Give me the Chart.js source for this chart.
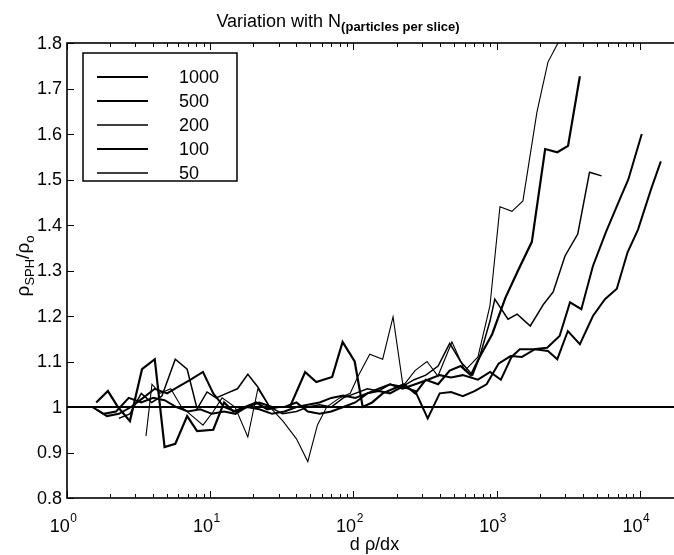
<!DOCTYPE html>
<html lang="en">
<head>
<meta charset="UTF-8">
<title>Variation with N</title>
<style>
  * { margin: 0; padding: 0; box-sizing: border-box; }
  html, body { width: 674px; height: 555px; background: #fff; overflow: hidden; }
  canvas { display: block; }
</style>
<script src="https://cdn.jsdelivr.net/npm/chart.js"></script>
</head>
<body>
<canvas id="nChart" width="674" height="555"></canvas>
<script>
// values (x = d rho/dx, y = rho_SPH / rho_0)
const seriesLabels = ['1000', '500', '200', '100', '50'];

const x1000 = [1.5, 1.8, 2.2, 2.7, 3.3, 4, 4.8, 5.8, 7, 8.5, 10.3, 12.5, 15, 18, 22, 27, 33, 40, 48, 58, 70, 85, 103, 125, 150, 180, 220, 270, 330, 400, 480, 580, 700, 850, 1030, 1250, 1500, 1850, 2280, 2650, 3140, 3810, 4700, 5700, 6900, 8200, 9700, 12000, 14000];
const y1000 = [1.0, 0.985, 0.99, 1.02, 1.01, 1.02, 1.015, 1.0, 0.99, 0.995, 0.985, 0.99, 0.985, 1.0, 0.995, 0.985, 0.99, 1.0, 1.005, 1.01, 1.02, 1.025, 1.02, 1.03, 1.035, 1.03, 1.045, 1.035, 0.975, 1.03, 1.033, 1.024, 1.035, 1.05, 1.095, 1.112, 1.11, 1.127, 1.123, 1.105, 1.167, 1.138, 1.2, 1.237, 1.26, 1.34, 1.39, 1.48, 1.54];

const x500 = [1.6, 1.9, 2.3, 2.8, 3.4, 4.1, 5, 6, 7.3, 8.9, 10.5, 12.5, 15, 18, 22, 27, 33, 40, 48, 58, 70, 85, 103, 125, 150, 180, 220, 270, 330, 400, 480, 580, 740, 900, 1070, 1270, 1450, 1800, 2250, 2750, 3250, 3900, 4700, 5800, 7000, 8300, 10300];
const y500 = [0.995, 0.98, 0.985, 1.0, 1.02, 1.04, 1.03, 1.045, 1.06, 1.077, 1.03, 1.0, 0.99, 1.0, 1.01, 1.0, 1.0, 1.01, 0.99, 0.985, 0.99, 1.0, 1.01, 1.03, 1.04, 1.05, 1.04, 1.05, 1.06, 1.07, 1.065, 1.07, 1.06, 1.077, 1.06, 1.11, 1.127, 1.127, 1.13, 1.156, 1.23, 1.215, 1.31, 1.385, 1.446, 1.5, 1.6];

const x200 = [2.3, 2.75, 3.3, 3.9, 4.6, 5.7, 6.9, 8.1, 9.5, 11, 13, 15.5, 18.3, 21.5, 26, 32, 40, 48, 58, 70, 85, 103, 125, 150, 180, 220, 265, 320, 390, 470, 560, 680, 760, 900, 970, 1200, 1390, 1716, 2125, 2480, 3000, 3680, 4450, 5400];
const y200 = [0.975, 0.985, 1.03, 1.01, 1.024, 1.105, 1.083, 0.996, 1.033, 1.02, 1.03, 1.04, 1.072, 1.044, 1.0, 0.985, 0.99, 1.0, 1.005, 1.0, 1.02, 1.03, 1.04, 1.035, 1.05, 1.045, 1.06, 1.07, 1.09, 1.14, 1.1, 1.07, 1.11, 1.19, 1.237, 1.193, 1.204, 1.178, 1.226, 1.253, 1.332, 1.38, 1.516, 1.508];

const x100 = [1.6, 1.93, 2.27, 2.75, 3.34, 4.1, 4.8, 5.7, 6.9, 8.1, 10.5, 12.5, 14.5, 17.5, 21, 25, 30, 36, 46, 55, 71, 84, 102, 116, 135, 160, 190, 225, 270, 320, 390, 470, 560, 660, 760, 930, 1150, 1410, 1760, 2180, 2650, 3150, 3810];
const y100 = [1.01, 1.035, 1.0, 0.969, 1.083, 1.105, 0.912, 0.919, 0.98, 0.947, 0.95, 1.01, 0.99, 1.0, 1.01, 0.995, 1.0, 1.0, 1.077, 1.055, 1.066, 1.143, 1.1, 1.0, 1.01, 1.03, 1.04, 1.05, 1.03, 1.06, 1.05, 1.08, 1.09, 1.07, 1.11, 1.16, 1.24, 1.3, 1.363, 1.567, 1.56, 1.574, 1.727];

const x50 = [3.56, 3.92, 4.46, 5.3, 6.3, 7.5, 8.9, 10.5, 12.1, 14.9, 18.3, 21.5, 26, 32, 40, 48, 56, 65, 80, 95, 107, 130, 160, 189, 222, 269, 326, 389, 487, 600, 740, 897, 1054, 1278, 1525, 1910, 2280, 2680, 3100];
const y50 = [0.936, 1.05, 1.03, 1.04, 1.0, 0.98, 0.96, 0.99, 1.02, 1.0, 0.934, 1.04, 1.0, 0.97, 0.93, 0.88, 0.96, 1.0, 1.02, 1.03, 1.066, 1.116, 1.105, 1.198, 1.046, 1.08, 1.1, 1.068, 1.143, 1.08, 1.11, 1.222, 1.44, 1.43, 1.453, 1.648, 1.758, 1.8, 1.9];

const refX = [1, 17300];
const refY = [1, 1];

const yTicks = [0.8, 0.9, 1.0, 1.1, 1.2, 1.3, 1.4, 1.5, 1.6, 1.7, 1.8];
const yTickLabels = ['0.8', '0.9', '1', '1.1', '1.2', '1.3', '1.4', '1.5', '1.6', '1.7', '1.8'];
const xDecades = [0, 1, 2, 3, 4];

const FONT = '"Liberation Sans", Arial, Helvetica, sans-serif';

function pts(xs, ys) {
    return xs.map((x, i) => ({ x: x, y: ys[i] }));
}

const lineWidths = [2, 2, 1.5, 2.2, 1.1];
const seriesData = [[x1000, y1000], [x500, y500], [x200, y200], [x100, y100], [x50, y50]];

const datasets = seriesData.map((s, i) => ({
    label: seriesLabels[i],
    data: pts(s[0], s[1]),
    borderColor: '#000',
    borderWidth: lineWidths[i],
    pointRadius: 0,
    tension: 0,
    fill: false
}));
datasets.push({
    label: 'ref',
    data: pts(refX, refY),
    borderColor: '#000',
    borderWidth: 1.8,
    pointRadius: 0,
    fill: false
});

function seg(ctx, x1, y1, x2, y2) {
    ctx.beginPath();
    ctx.moveTo(x1, y1);
    ctx.lineTo(x2, y2);
    ctx.stroke();
}

const decor = {
    id: 'decor',
    afterDraw(chart) {
        const ctx = chart.ctx;
        const a = chart.chartArea;
        const xs = chart.scales.x;
        const ys = chart.scales.y;
        ctx.save();
        ctx.strokeStyle = '#000';
        ctx.fillStyle = '#000';

        // axes box
        ctx.lineWidth = 1.6;
        ctx.strokeRect(a.left, a.top, a.right - a.left + 4, a.bottom - a.top);

        // inward ticks, x (log)
        ctx.lineWidth = 1;
        xDecades.forEach(d => {
            for (let m = 1; m <= 9; m++) {
                const v = m * Math.pow(10, d);
                if (v > xs.max) break;
                const px = Math.round(xs.getPixelForValue(v)) + 0.5;
                const len = m === 1 ? 7 : 4;
                seg(ctx, px, a.bottom, px, a.bottom - len);
                seg(ctx, px, a.top, px, a.top + len);
            }
        });
        // inward ticks, y
        yTicks.forEach(v => {
            const py = Math.round(ys.getPixelForValue(v)) + 0.5;
            seg(ctx, a.left, py, a.left + 7, py);
        });

        // y tick labels
        ctx.font = '18px ' + FONT;
        ctx.textAlign = 'right';
        ctx.textBaseline = 'middle';
        yTicks.forEach((v, i) => {
            ctx.fillText(yTickLabels[i], a.left - 5, ys.getPixelForValue(v) + 1);
        });

        // x tick labels 10^n
        ctx.textBaseline = 'alphabetic';
        ctx.textAlign = 'left';
        xDecades.forEach(d => {
            const px = xs.getPixelForValue(Math.pow(10, d));
            ctx.font = '18px ' + FONT;
            const wb = ctx.measureText('10').width;
            ctx.font = '12px ' + FONT;
            const we = ctx.measureText(String(d)).width;
            const x0 = px - 4 - (wb + we) / 2;
            ctx.font = '18px ' + FONT;
            ctx.fillText('10', x0, a.bottom + 34);
            ctx.font = '12px ' + FONT;
            ctx.fillText(String(d), x0 + wb + 0.5, a.bottom + 24);
        });

        // x axis title
        ctx.font = '18px ' + FONT;
        ctx.textAlign = 'center';
        ctx.fillText('d \u03C1/dx', (a.left + a.right) / 2 + 4, a.bottom + 52);

        // y axis title: rho_SPH / rho_o, rotated
        const parts = [
            ['\u03C1', 19, 0], ['SPH', 13, 5], ['/', 19, 0], ['\u03C1', 19, 0], ['o', 13, 5]
        ];
        let total = 0;
        parts.forEach(p => { ctx.font = p[1] + 'px ' + FONT; total += ctx.measureText(p[0]).width; });
        ctx.save();
        ctx.translate(29, 266);
        ctx.rotate(-Math.PI / 2);
        ctx.textAlign = 'left';
        let cx = -total / 2;
        parts.forEach(p => {
            ctx.font = p[1] + 'px ' + FONT;
            ctx.fillText(p[0], cx, p[2]);
            cx += ctx.measureText(p[0]).width;
        });
        ctx.restore();

        // title
        ctx.textAlign = 'left';
        ctx.font = '18px ' + FONT;
        const t1 = 'Variation with N';
        const w1 = ctx.measureText(t1).width;
        ctx.font = 'bold 13px ' + FONT;
        const t2 = '(particles per slice)';
        const w2 = ctx.measureText(t2).width;
        const tx = 338 - (w1 + w2) / 2;
        ctx.font = '18px ' + FONT;
        ctx.fillText(t1, tx, 27);
        ctx.font = 'bold 13px ' + FONT;
        ctx.fillText(t2, tx + w1, 31);

        // legend box
        const lx = 83, ly = 53, lw = 154, lh = 128;
        ctx.fillStyle = '#fff';
        ctx.fillRect(lx, ly, lw, lh);
        ctx.lineWidth = 1.5;
        ctx.strokeRect(lx, ly, lw, lh);
        ctx.fillStyle = '#000';
        ctx.font = '18px ' + FONT;
        ctx.textAlign = 'left';
        ctx.textBaseline = 'middle';
        seriesLabels.forEach((lab, i) => {
            const yy = ly + 24 + i * 24;
            ctx.lineWidth = Math.max(lineWidths[i], 1.6);
            seg(ctx, 97, yy, 148, yy);
            ctx.fillText(lab, 179, yy + 1);
        });

        ctx.restore();
    }
};

new Chart(document.getElementById('nChart').getContext('2d'), {
    type: 'line',
    data: { datasets: datasets },
    options: {
        responsive: false,
        animation: false,
        devicePixelRatio: 1,
        layout: { padding: { left: 67, right: 0, top: 43, bottom: 57 } },
        plugins: {
            legend: { display: false },
            tooltip: { enabled: false },
            title: { display: false }
        },
        scales: {
            x: { type: 'logarithmic', min: 1, max: 17300, display: false },
            y: { min: 0.8, max: 1.8, display: false }
        }
    },
    plugins: [decor]
});
</script>
</body>
</html>
